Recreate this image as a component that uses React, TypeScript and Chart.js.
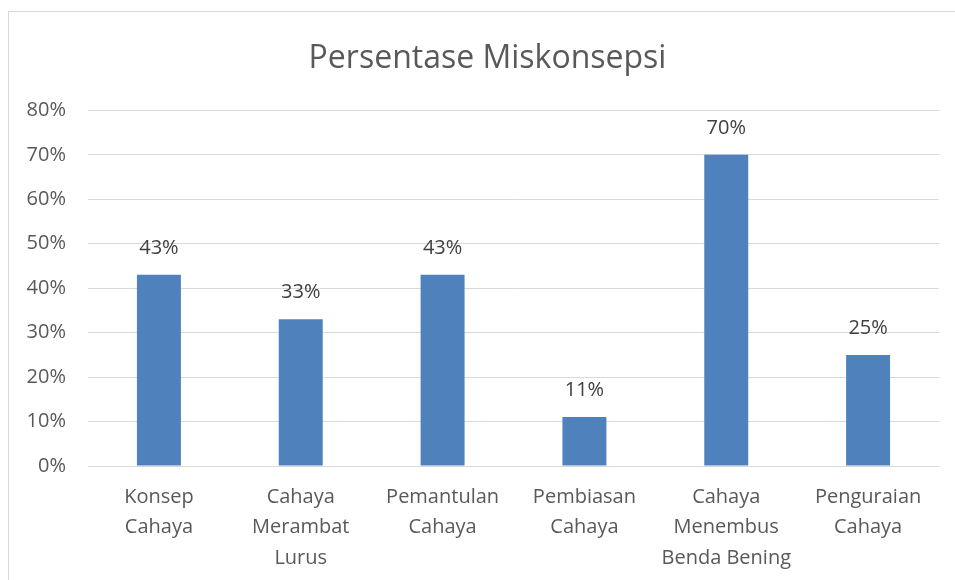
import React, { useEffect, useRef } from "react";
import { Chart, registerables } from "chart.js";

Chart.register(...registerables);

const categories: string[][] = [
  ["Konsep", "Cahaya"],
  ["Cahaya", "Merambat", "Lurus"],
  ["Pemantulan", "Cahaya"],
  ["Pembiasan", "Cahaya"],
  ["Cahaya", "Menembus", "Benda Bening"],
  ["Penguraian", "Cahaya"],
];
const values: number[] = [43, 33, 43, 11, 70, 25];
const yTicks: number[] = [0, 10, 20, 30, 40, 50, 60, 70, 80];

const FONT = "'Open Sans', sans-serif";

const valueLabels = {
  id: "valueLabels",
  afterDatasetsDraw(chart: any) {
    const ctx = chart.ctx;
    const meta = chart.getDatasetMeta(0);
    ctx.save();
    ctx.font = `20px ${FONT}`;
    ctx.fillStyle = "#404040";
    ctx.textAlign = "center";
    ctx.textBaseline = "middle";
    meta.data.forEach((bar: any, i: number) => {
      ctx.fillText(values[i] + "%", bar.x, bar.y - 27);
    });
    ctx.restore();
  },
};

export default function App() {
  const ref = useRef<HTMLCanvasElement>(null);
  useEffect(() => {
    if (!ref.current) return;
    const chart = new Chart(ref.current, {
      type: "bar",
      data: {
        labels: categories,
        datasets: [
          {
            data: values,
            backgroundColor: "#4f81bd",
            categoryPercentage: 1,
            barPercentage: 0.31,
            yAxisID: "y",
          },
        ],
      },
      options: {
        animation: false,
        responsive: false,
        maintainAspectRatio: false,
        layout: { padding: 0 },
        plugins: {
          legend: { display: false },
          tooltip: { enabled: false },
          title: {
            display: true,
            text: "Persentase Miskonsepsi",
            color: "#595959",
            font: { family: FONT, size: 32, weight: "normal", lineHeight: 1.2 },
            padding: { top: 28, bottom: 32 },
          },
        },
        scales: {
          x: {
            grid: { display: false, drawTicks: false },
            border: { display: false },
            ticks: {
              color: "#595959",
              font: { family: FONT, size: 20, lineHeight: 1.52 },
              padding: 16,
              maxRotation: 0,
              autoSkip: false,
            },
            afterFit: (s: any) => {
              s.height = 121;
            },
          },
          y: {
            min: 0,
            max: 80,
            afterBuildTicks: (s: any) => {
              s.ticks = yTicks.map((v) => ({ value: v }));
            },
            grid: { color: "#d9d9d9", lineWidth: 1, drawTicks: false },
            border: { display: false },
            ticks: {
              color: "#595959",
              font: { family: FONT, size: 20 },
              padding: 22,
              callback: (v: any) => v + "%",
            },
            afterFit: (s: any) => {
              s.width = 79;
            },
          },
          yRight: {
            position: "right",
            min: 0,
            max: 80,
            grid: { display: false, drawTicks: false },
            border: { display: false },
            ticks: { display: false },
            afterFit: (s: any) => {
              s.width = 27;
            },
          },
        },
      },
      plugins: [valueLabels],
    });
    return () => chart.destroy();
  }, []);
  return (
    <div
      style={{
        position: "absolute",
        left: 8,
        top: 11,
        width: 957,
        height: 577,
        border: "1px solid #d9d9d9",
        background: "#fff",
      }}
    >
      <canvas ref={ref} width={957} height={575} style={{ display: "block" }} />
    </div>
  );
}
